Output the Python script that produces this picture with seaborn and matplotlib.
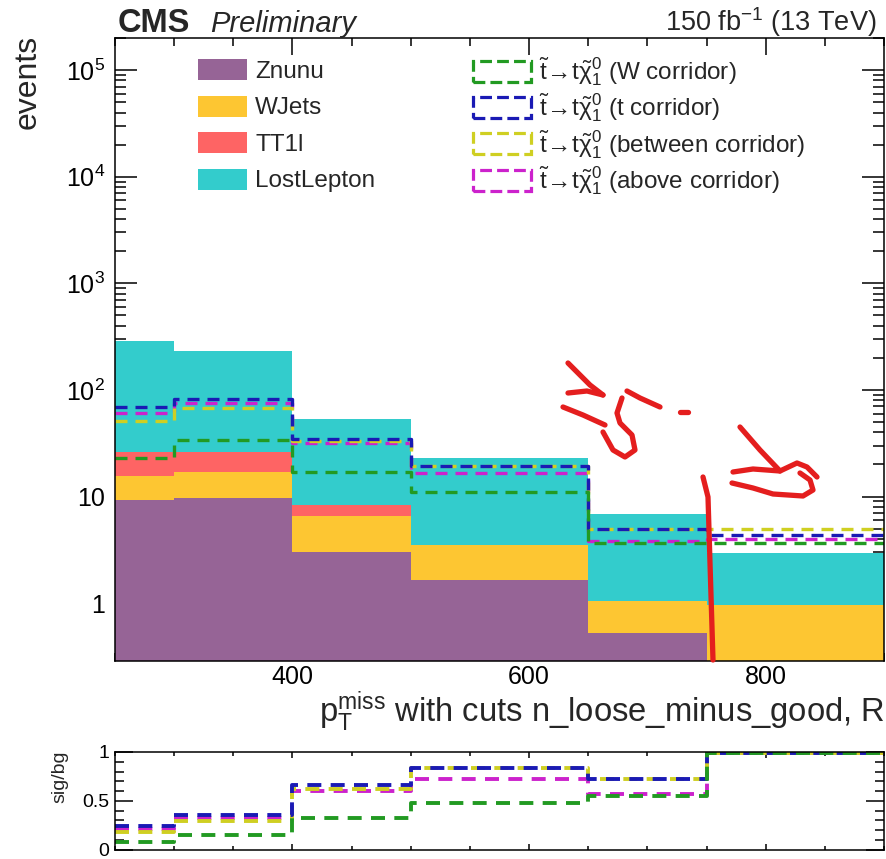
import numpy as np
import pandas as pd
import matplotlib
matplotlib.use("Agg")
import matplotlib.pyplot as plt
import seaborn as sns
from matplotlib.patches import Patch
from matplotlib.lines import Line2D
from matplotlib.ticker import MultipleLocator, LogLocator, FuncFormatter, NullFormatter, FixedLocator

# ---------------------------------------------------------------- data
bin_edges = [250, 300, 400, 500, 650, 750, 900]

backgrounds = ["Znunu", "WJets", "TT1l", "LostLepton"]
znunu = [9.25, 9.6, 2.99, 1.64, 0.53, 0.0]
wjets = [6.25, 7.5, 3.56, 1.86, 0.51, 0.97]
tt1l = [10.8, 9.2, 1.75, 0.0, 0.0, 0.0]
lostlepton = [262.7, 204.7, 44.6, 19.7, 5.76, 1.99]

signals = ["W corridor", "t corridor", "between corridor", "above corridor"]
sig_w = [23.1, 33.8, 17.1, 11.1, 3.7, 3.63]
sig_t = [69.4, 82.0, 35.0, 19.3, 4.94, 4.35]
sig_between = [51.3, 67.0, 33.0, 19.3, 4.94, 4.94]
sig_above = [61.0, 74.7, 31.5, 16.7, 3.84, 3.96]

bg_colors = {"Znunu": "#966496", "WJets": "#FDC632",
             "TT1l": "#FE6464", "LostLepton": "#33CCCC"}
sig_colors = {"W corridor": "#229A22", "t corridor": "#1A1AB4",
              "between corridor": "#CFCF22", "above corridor": "#CC22CC"}

# ---------------------------------------------------------------- tables
edges = np.array(bin_edges, dtype=float)
centers = 0.5 * (edges[:-1] + edges[1:])

bg_values = {"Znunu": znunu, "WJets": wjets, "TT1l": tt1l, "LostLepton": lostlepton}
sig_values = {"W corridor": sig_w, "t corridor": sig_t,
              "between corridor": sig_between, "above corridor": sig_above}

bg_df = pd.DataFrame([
    {"pt": c, "process": p, "events": v}
    for p in backgrounds for c, v in zip(centers, bg_values[p])
])
sig_df = pd.DataFrame([
    {"pt": c, "signal": s, "events": v}
    for s in signals for c, v in zip(centers, sig_values[s])
])
total_bg = np.sum([bg_values[p] for p in backgrounds], axis=0)
# ratio is capped just below the top of the panel, as values above 1 run off scale
sig_df["ratio"] = [
    min(v / total_bg[i], 0.99)
    for s in signals for i, v in enumerate(sig_values[s])
]

# ---------------------------------------------------------------- style
sns.set_theme(style="ticks")
plt.rcParams["font.family"] = ["Liberation Sans", "DejaVu Sans"]
plt.rcParams["mathtext.fontset"] = "custom"
plt.rcParams["mathtext.rm"] = "Liberation Sans"
plt.rcParams["mathtext.it"] = "Liberation Sans:italic"
plt.rcParams["mathtext.bf"] = "Liberation Sans:bold"
plt.rcParams["axes.linewidth"] = 1.1

W, H = 886, 859
fig = plt.figure(figsize=(W / 100, H / 100), dpi=100)


def fx(px):
    return px / W


def fy(py):
    return 1 - py / H


ax = fig.add_axes([fx(115), fy(660.5), fx(884) - fx(115), fy(38) - fy(660.5)])
ax2 = fig.add_axes([fx(115), fy(849.5), fx(884) - fx(115), fy(752) - fy(849.5)])

dash = (0, (3.6, 2.4))

# stacked backgrounds (seaborn stacks the last hue level at the bottom)
sns.histplot(data=bg_df, x="pt", weights="events", hue="process",
             hue_order=backgrounds[::-1], palette=bg_colors, bins=bin_edges,
             multiple="stack", element="step", fill=True, alpha=1,
             linewidth=0, legend=False, ax=ax)

# signal overlays
sns.histplot(data=sig_df, x="pt", weights="events", hue="signal",
             hue_order=signals, palette=sig_colors, bins=bin_edges,
             multiple="layer", element="step", fill=False,
             linewidth=2.4, linestyle=dash, legend=False, ax=ax)

ax.set_yscale("log")
ax.set_xlim(250, 900)
ax.set_ylim(0.29, 2.0e5)
ax.set_xlabel("")
ax.set_ylabel("")


def log_label(v, pos):
    e = int(round(np.log10(v)))
    if e == 0:
        return "1"
    if e == 1:
        return "10"
    return r"$10^{%d}$" % e


ax.yaxis.set_major_locator(FixedLocator([1, 10, 100, 1e3, 1e4, 1e5]))
ax.yaxis.set_major_formatter(FuncFormatter(log_label))
ax.yaxis.set_minor_locator(LogLocator(base=10, subs=np.arange(2, 10), numticks=20))
ax.yaxis.set_minor_formatter(NullFormatter())
ax.xaxis.set_major_locator(MultipleLocator(200))
ax.xaxis.set_minor_locator(MultipleLocator(50))

ax.tick_params(which="both", direction="in", top=True, right=True,
               width=1.1, colors="black", labelsize=18)
ax.tick_params(axis="x", which="major", length=12, pad=3)
ax.tick_params(axis="x", which="minor", length=6)
ax.tick_params(axis="y", which="major", length=16, pad=7)
ax.tick_params(axis="y", which="minor", length=8)
for s in ax.spines.values():
    s.set_color("black")

# legends
bg_handles = [Patch(facecolor=bg_colors[p], edgecolor="none") for p in backgrounds]
leg1 = ax.legend(bg_handles, backgrounds, loc="upper left",
                 bbox_to_anchor=(0.108, 0.966), frameon=False, fontsize=17.5,
                 handlelength=2.0, handleheight=0.95, handletextpad=0.35,
                 labelspacing=0.52, borderpad=0, borderaxespad=0)
ax.add_artist(leg1)

sig_handles = [Patch(facecolor="none", edgecolor=sig_colors[s], linestyle="--",
                     linewidth=2.3) for s in signals]
decay = r"$\mathrm{\tilde{t}\!\rightarrow\! t\tilde{\chi}_{1}^{0}}$"
sig_labels = [f"{decay} ({s})" for s in signals]
ax.legend(sig_handles, sig_labels, loc="upper left",
          bbox_to_anchor=(0.465, 0.972), frameon=False, fontsize=17.5,
          handlelength=2.4, handleheight=0.95, handletextpad=0.35,
          labelspacing=0.16, borderpad=0, borderaxespad=0)

# ratio panel
sns.histplot(data=sig_df, x="pt", weights="ratio", hue="signal",
             hue_order=signals, palette=sig_colors, bins=bin_edges,
             multiple="layer", element="step", fill=False,
             linewidth=2.8, linestyle=dash, legend=False, ax=ax2)
ax2.set_xlim(250, 900)
ax2.set_ylim(0, 1)
ax2.set_xlabel("")
ax2.set_ylabel("")
ax2.set_yticks([0, 0.5, 1])
ax2.set_yticklabels(["0", "0.5", "1"])
ax2.yaxis.set_minor_locator(MultipleLocator(0.1))
ax2.xaxis.set_major_locator(MultipleLocator(200))
ax2.xaxis.set_minor_locator(MultipleLocator(50))
ax2.tick_params(which="both", direction="in", top=True, right=True,
                width=1.1, colors="black", labelsize=14, labelbottom=False)
ax2.tick_params(axis="y", which="major", length=13, pad=4)
ax2.tick_params(axis="y", which="minor", length=6.5)
ax2.tick_params(axis="x", which="major", length=4)
ax2.tick_params(axis="x", which="minor", length=3)
for s in ax2.spines.values():
    s.set_color("black")

# titles and axis labels
fig.text(fx(118), fy(32), "CMS", fontsize=23.5, fontweight="bold",
         ha="left", va="baseline")
fig.text(fx(210), fy(32), "Preliminary", fontsize=21, style="italic",
         ha="left", va="baseline")
fig.text(fx(876), fy(31), r"150 fb$^{-1}$ (13 TeV)", fontsize=19.5,
         ha="right", va="baseline")
fig.text(fx(28), fy(82), "events", fontsize=23, rotation=90,
         ha="center", va="center")
fig.text(fx(885), fy(722),
         r"$\mathrm{p}_{\mathrm{T}}^{\mathrm{miss}}$ with cuts n_loose_minus_good, R",
         fontsize=23.6, ha="right", va="baseline")
fig.text(fx(60), fy(777), "sig/bg", fontsize=14, rotation=90,
         ha="center", va="center")

# freehand red annotation strokes (figure pixels, origin top-left)
strokes = [
    [(568, 363), (580, 375), (590, 385), (603, 395)],
    [(568, 393), (587, 391), (603, 395)],
    [(563, 407), (583, 415), (605, 425)],
    [(627, 391), (640, 398), (660, 407)],
    [(622, 398), (617, 413), (620, 423), (632, 435), (635, 450),
     (625, 457), (613, 450), (603, 432)],
    [(680, 412), (688, 412)],
    [(740, 427), (760, 450), (780, 471)],
    [(733, 472), (753, 469), (780, 471), (797, 463), (807, 467), (817, 477)],
    [(732, 483), (753, 488), (773, 494), (803, 496), (813, 490),
     (810, 480), (800, 473)],
    [(703, 477), (708, 497), (710, 563), (713, 660)],
]
for st in strokes:
    xs = [fx(p[0]) for p in st]
    ys = [fy(p[1]) for p in st]
    fig.add_artist(Line2D(xs, ys, color="#E41E1E", linewidth=3.8,
                          solid_capstyle="round", solid_joinstyle="round",
                          transform=fig.transFigure))

fig.savefig("out.png", dpi=100)
